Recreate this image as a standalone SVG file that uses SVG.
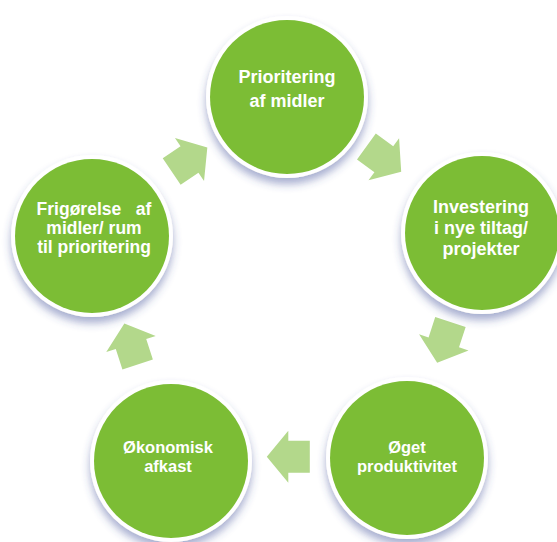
<svg xmlns="http://www.w3.org/2000/svg" width="557" height="542" viewBox="0 0 557 542">
  <defs>
    <filter id="sh" x="-30%" y="-30%" width="160%" height="170%">
      <feDropShadow dx="0" dy="6" stdDeviation="4" flood-color="#3a4a96" flood-opacity="0.45"/>
    </filter>
    <path id="arr" d="M -21.5,-16 L 0,-16 L 0,-26 L 21.5,0 L 0,26 L 0,16 L -21.5,16 Z"/>
  </defs>
  <style>
    .ring { fill: #ffffff; filter: url(#sh); }
    .disc { fill: #7cbd35; }
    .lbl { fill: #ffffff; font-family: "Liberation Sans", Arial, sans-serif; font-weight: bold; text-anchor: middle; }
    .arrow { fill: #b3d88b; }
  </style>
  <rect width="557" height="542" fill="#ffffff"/>

  <g id="connectors">
    <use href="#arr" class="arrow" transform="translate(189.5,159.5) rotate(-34)"/>
    <use href="#arr" class="arrow" transform="translate(383.8,159.2) rotate(36)"/>
    <use href="#arr" class="arrow" transform="translate(443.8,342.4) rotate(108)"/>
    <use href="#arr" class="arrow" transform="translate(288.3,456.7) rotate(180)"/>
    <use href="#arr" class="arrow" transform="translate(131,344) rotate(-108)"/>
  </g>

  <g id="node-prioritering">
    <circle class="ring" cx="287" cy="97" r="81"/>
    <circle class="disc" cx="287" cy="97" r="77"/>
    <text class="lbl" font-size="18"><tspan x="287" y="83">Prioritering</tspan><tspan x="287" y="107">af midler</tspan></text>
  </g>

  <g id="node-investering">
    <circle class="ring" cx="482" cy="233" r="81"/>
    <circle class="disc" cx="482" cy="233" r="77"/>
    <text class="lbl" font-size="18"><tspan x="481" y="213">Investering</tspan><tspan x="481" y="234">i nye tiltag/</tspan><tspan x="481" y="255">projekter</tspan></text>
  </g>

  <g id="node-oget">
    <circle class="ring" cx="407" cy="458" r="81"/>
    <circle class="disc" cx="407" cy="458" r="77"/>
    <text class="lbl" font-size="16.5"><tspan x="407" y="453">Øget</tspan><tspan x="407" y="472">produktivitet</tspan></text>
  </g>

  <g id="node-okonomisk">
    <circle class="ring" cx="171" cy="461" r="81"/>
    <circle class="disc" cx="171" cy="461" r="77"/>
    <text class="lbl" font-size="16.5"><tspan x="168" y="453">Økonomisk</tspan><tspan x="168" y="472">afkast</tspan></text>
  </g>

  <g id="node-frigorelse">
    <circle class="ring" cx="92" cy="236" r="81"/>
    <circle class="disc" cx="92" cy="236" r="77"/>
    <text class="lbl" font-size="17.5" xml:space="preserve"><tspan x="94" y="215">Frigørelse   af</tspan><tspan x="94" y="234">midler/ rum</tspan><tspan x="94" y="253">til prioritering</tspan></text>
  </g>
</svg>
